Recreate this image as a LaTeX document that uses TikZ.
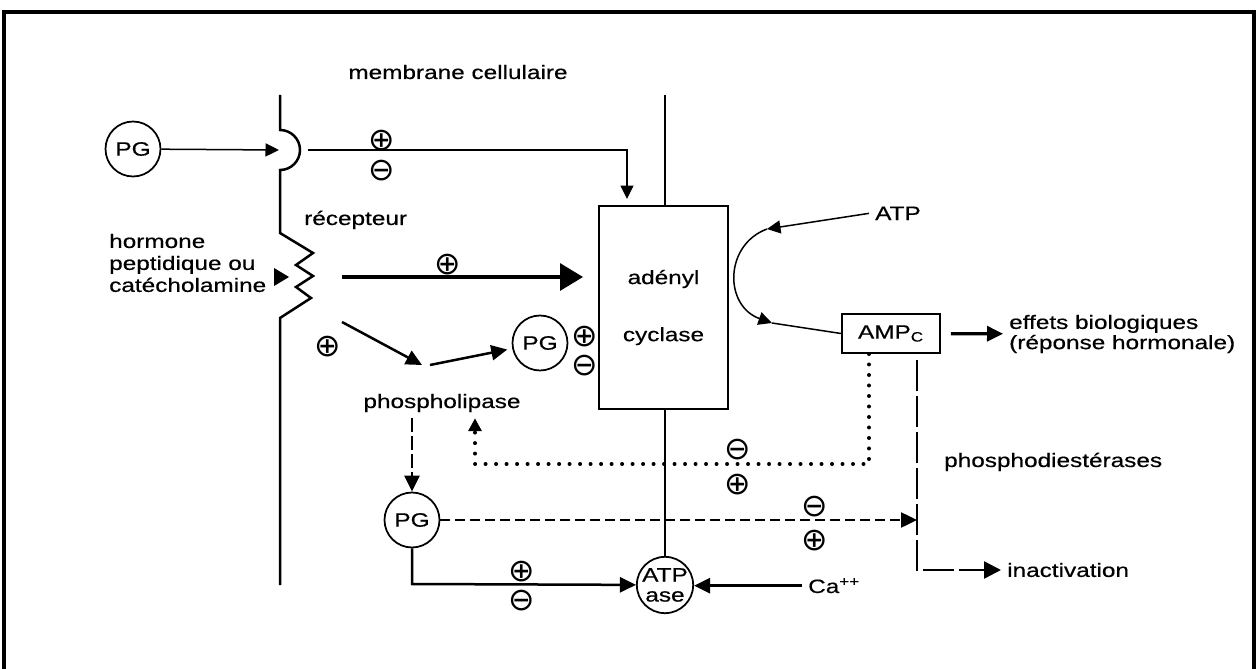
\documentclass[tikz,border=0pt]{standalone}
\usepackage{fontspec}
\setmainfont{Liberation Sans}[FakeStretch=1.26, FakeBold=0.5]
\newfontfamily\signfont{DejaVu Sans}
\usetikzlibrary{arrows.meta}

\begin{document}
\begin{tikzpicture}[x=0.02cm, y=-0.02cm,
  font=\fontsize{11}{12.5}\selectfont,
  mol/.style={circle, draw, line width=0.035cm, minimum size=1.1cm, inner sep=0pt},
  sign/.style={font=\signfont\fontsize{18}{18}\selectfont, inner sep=0pt, text height=0.92em, text depth=0pt, yshift=-0.1cm},
  thinline/.style={line width=0.03cm},
  thinarrow/.style={thinline, -{Triangle[length=0.27cm, width=0.26cm]}},
  fl/.style={line width=0.05cm, -{Triangle[length=0.32cm, width=0.3cm]}},
  bigarrow/.style={line width=0.065cm, -{Triangle[length=0.46cm, width=0.54cm]}},
  pdline/.style={line width=0.05cm, dash pattern=on 0.62cm off 0.1cm},
  dotline/.style={line width=0.08cm, line cap=round, dash pattern=on 0pt off 0.21cm}]
  \useasboundingbox (0,0) rectangle (1259,669);

  % Cadre
  \draw[line width=0.07cm] (4,669) -- (4,12) -- (1254,12) -- (1254,669);

  % Membrane cellulaire et récepteur
  \node[anchor=base] (memb) at (458,79) {membrane cellulaire};
  \draw[line width=0.05cm] (280,95) -- (280,130) arc[start angle=-90, end angle=90, radius=20]
    -- (280,233) -- (313,253) -- (296,265) -- (313,276) -- (296,287) -- (311,298) -- (280,318) -- (280,585);
  \coordinate (cupL) at (279,150);
  \coordinate (cupR) at (308,150);
  \node[anchor=base west] (recep) at (298,225) {récepteur};
  \node[anchor=west, align=left] (horm) at (103,263) {hormone\\peptidique ou\\catécholamine};
  \coordinate (hormTip) at (289,277);
  \fill (hormTip) -- ++(-15,-9) -- ++(0,18) -- cycle;

  % Adényl cyclase
  \node[draw, line width=0.05cm, minimum width=2.58cm, minimum height=4.06cm, align=center] (cyc)
    at (663.5,307.5) {adényl\\[20pt]cyclase};
  \coordinate (memR) at (665,95);
  \draw[thinline] (memR) -- (memR |- cyc.north);
  \node[mol, minimum size=1.12cm, align=center, font=\fontsize{11}{11.4}\selectfont] (atpase)
    at (665,585) {ATP\\ase};
  \draw[thinline] (cyc.south -| memR) -- (atpase);

  % PG extérieure
  \node[mol] (pgA) at (133,149) {PG};
  \coordinate (cycIn) at (627,199);
  \draw[thinarrow] (pgA) -- (cupL);
  \draw[thinarrow] (cupR) -| (cycIn);

  % Hormone -> adényl cyclase
  \coordinate (recA) at (342,277);
  \coordinate (cycA) at (583,277);
  \draw[bigarrow] (recA) -- (cycA);

  % Voie de la phospholipase
  \coordinate (recB) at (342,322);
  \coordinate (plA) at (422,365);
  \coordinate (plB) at (430,365);
  \node[mol] (pgB) at (540,343) {PG};
  \draw[fl] (recB) -- (plA);
  \draw[fl, shorten >=0.1cm] (plB) -- (pgB);
  \node[anchor=base] (pl) at (442,408) {phospholipase};
  \node[mol] (pgC) at (412,520) {PG};
  \draw[fl, dash pattern=on 0.28cm off 0.08cm] (pl.south -| pgC) -- (pgC);

  % ATP -> AMPc
  \node[anchor=base west] (atp) at (869,220) {ATP};
  \coordinate (arcA) at (767,229);
  \coordinate (arcB) at (772,323);
  \draw[thinarrow] (atp.west) -- (arcA);
  \draw[thinarrow] (arcA) .. controls (724,245) and (724,306) .. (arcB);
  \node[draw, line width=0.04cm, minimum width=1.96cm, minimum height=0.78cm] (amp)
    at (891,333.5) {AMP\textsubscript{C}};
  \draw[thinline] (arcB) -- (amp.west);
  \node[anchor=west, align=left, font=\fontsize{11}{11.5}\selectfont] (eff)
    at (1003,334) {effets biologiques\\(réponse hormonale)};
  \draw[fl, line width=0.065cm, shorten <=0.2cm] (amp) -- (eff);

  % Phosphodiestérases
  \coordinate (pdA) at (917,360);
  \coordinate (pdB) at (917,570);
  \node[anchor=base west] (pde) at (938,467) {phosphodiestérases};
  \node[anchor=west] (inact) at (1001,570) {inactivation};
  \draw[pdline, -{Triangle[length=0.34cm, width=0.34cm]}] (pdA) -- (pdB) -- (inact);
  \draw[fl, dash pattern=on 0.2cm off 0.1cm] (pgC) -- (pgC -| pdA);

  % Rétrocontrôle AMPc -> phospholipase
  \coordinate (dotC) at (869,464);
  \coordinate (dotL) at (475,464);
  \draw[dotline, -{Triangle[length=0.26cm, width=0.26cm]}] (amp.south -| dotC) -- (dotC) -- (dotL) -- (dotL |- pl.south);

  % ATPase
  \node[anchor=base west] (ca) at (802,593) {Ca\textsuperscript{++}};
  \coordinate (pgCd) at (412,584);
  \draw[fl] (ca.west) -- (ca.west -| atpase.east);
  \draw[fl] (pgC) -- (pgCd) -- (atpase);

  % Signes
  \foreach \x/\y/\s [count=\i] in {382/137/⊕, 382/167/⊖, 448/261/⊕, 328/343/⊕,
      585/333/⊕, 585/362/⊖, 738/446/⊖, 738/481/⊕,
      815/503/⊖, 815/537/⊕, 522/568/⊕, 522/597/⊖} {
    \node[sign] (sg\i) at (\x,\y) {\s};
  }
\end{tikzpicture}
\end{document}
